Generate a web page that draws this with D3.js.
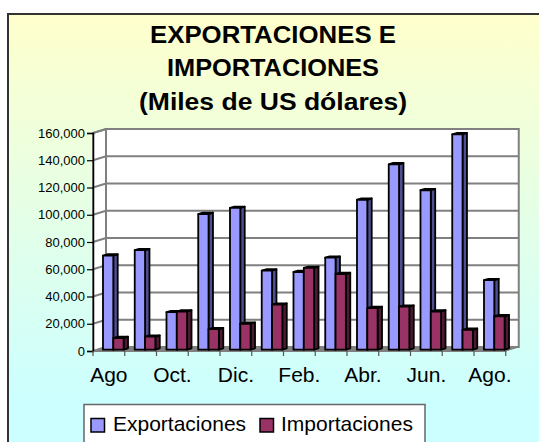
<!DOCTYPE html>
<html>
<head>
<meta charset="utf-8">
<script src="https://cdn.jsdelivr.net/npm/d3@7"></script>
<style>
  body { margin: 0; background: #fff; }
  svg { display: block; font-family: "Liberation Sans", Arial, sans-serif; }
</style>
</head>
<body>
<div class="chart-container"></div>
<script>
var w = 539;
var h = 442;

// data (miles de US dolares)
var months = ["Ago", "Sep.", "Oct.", "Nov.", "Dic.", "Ene.", "Feb.", "Mar.", "Abr.", "May.", "Jun.", "Jul.", "Ago."];
var exportaciones = [69000, 73000, 27500, 99500, 104000, 58000, 57000, 67500, 110000, 136000, 117000, 158000, 51000];
var importaciones = [8500, 9500, 28000, 15000, 19000, 33000, 60000, 55500, 30500, 31500, 28000, 14500, 24500];
var seriesNames = ["Exportaciones", "Importaciones"];
var yTicks = [0, 20000, 40000, 60000, 80000, 100000, 120000, 140000, 160000];
var titleLines = ["EXPORTACIONES E", "IMPORTACIONES", "(Miles de US dólares)"];

// 3d look
var DX = 13, DY = -4;      // depth offset of the back wall
var z0 = 0.34, z1 = 0.68;  // depth slice taken by the bars
var faces = {
    Exportaciones: { front: "#9999ff", top: "#7c7cd6", side: "#4f4f8f" },
    Importaciones: { front: "#993366", top: "#7a2952", side: "#4d1a33" }
};

var svg = d3.select(".chart-container")
    .append("svg")
    .attr("width", w)
    .attr("height", h);

var defs = svg.append("defs");
var grad = defs.append("linearGradient")
    .attr("id", "bg")
    .attr("gradientUnits", "userSpaceOnUse")
    .attr("x1", 0).attr("y1", 14).attr("x2", 0).attr("y2", 400);
grad.append("stop").attr("offset", "0").attr("stop-color", "#ffffcc");
grad.append("stop").attr("offset", "1").attr("stop-color", "#ccffff");

// frame
svg.append("rect")
    .attr("x", 8).attr("y", 14)
    .attr("width", 600).attr("height", 500)
    .attr("fill", "url(#bg)")
    .attr("stroke", "#333")
    .attr("stroke-width", 2);

// title
svg.append("g").selectAll("text")
    .data(titleLines)
    .enter()
    .append("text")
    .attr("x", 273)
    .attr("y", function(d, i) { return 42.5 + i * 33.5; })
    .attr("text-anchor", "middle")
    .attr("font-size", 24)
    .attr("font-weight", "bold")
    .attr("textLength", function(d, i) { return [246, 212, 268][i]; })
    .attr("lengthAdjust", "spacingAndGlyphs")
    .attr("fill", "#000")
    .text(function(d) { return d; });

var xScale = d3.scaleBand()
    .domain(d3.range(months.length))
    .range([93, 93 + 13 * 31.75])
    .padding(0);

var xSub = d3.scaleBand()
    .domain(seriesNames)
    .range([0, xScale.bandwidth()])
    .paddingInner(0)
    .paddingOuter(0.54);

var yScale = d3.scaleLinear()
    .domain([0, 160000])
    .range([351, 133]);

function pt(x, v, z) {
    return [x + z * DX, yScale(v) + z * DY];
}
function poly(pts) {
    return "M" + pts.map(function(p) { return p[0] + "," + p[1]; }).join("L") + "Z";
}

var x0 = xScale.range()[0], x1 = xScale.range()[1];
var vMax = 160000;

// walls
svg.append("path")
    .attr("d", poly([pt(x0, 0, 1), pt(x0, vMax, 1), pt(x1, vMax, 1), pt(x1, 0, 1)]))
    .attr("fill", "#fff")
    .attr("stroke", "#808080")
    .attr("stroke-width", 2);
svg.append("path")
    .attr("d", poly([pt(x0, 0, 0), pt(x0, vMax, 0), pt(x0, vMax, 1), pt(x0, 0, 1)]))
    .attr("fill", "#fff")
    .attr("stroke", "#808080")
    .attr("stroke-width", 2);

// gridlines
var grid = svg.append("g").attr("fill", "none").attr("stroke", "#808080").attr("stroke-width", 2);
yTicks.slice(1).forEach(function(t) {
    grid.append("path")
        .attr("d", "M" + pt(x0, t, 0) + "L" + pt(x0, t, 1) + "L" + pt(x1, t, 1));
});

// floor
svg.append("path")
    .attr("d", poly([pt(x0, 0, 0), pt(x0, 0, 1), pt(x1, 0, 1), pt(x1, 0, 0)]))
    .attr("fill", "#808080")
    .attr("stroke", "#808080")
    .attr("stroke-width", 1);

// bars
var bars = [];
months.forEach(function(m, i) {
    bars.push({ i: i, s: "Exportaciones", v: exportaciones[i] });
    bars.push({ i: i, s: "Importaciones", v: importaciones[i] });
});

var barG = svg.append("g")
    .attr("stroke", "#000")
    .attr("stroke-width", 1.8)
    .attr("stroke-linejoin", "round");

bars.forEach(function(d) {
    var xl = xScale(d.i) + xSub(d.s);
    var xr = xl + xSub.bandwidth();
    var g = barG.append("g");
    g.append("path")
        .attr("d", poly([pt(xr, 0, z0), pt(xr, d.v, z0), pt(xr, d.v, z1), pt(xr, 0, z1)]))
        .attr("fill", faces[d.s].side);
    g.append("path")
        .attr("d", poly([pt(xl, d.v, z0), pt(xl, d.v, z1), pt(xr, d.v, z1), pt(xr, d.v, z0)]))
        .attr("fill", faces[d.s].top);
    g.append("path")
        .attr("d", poly([pt(xl, 0, z0), pt(xl, d.v, z0), pt(xr, d.v, z0), pt(xr, 0, z0)]))
        .attr("fill", faces[d.s].front);
});

// y axis
var yAxis = d3.axisLeft()
    .scale(yScale)
    .tickValues(yTicks)
    .tickFormat(d3.format(","))
    .tickSize(6)
    .tickPadding(2);

var yg = svg.append("g")
    .attr("class", "axis")
    .attr("transform", "translate(" + x0 + ",0)")
    .call(yAxis);
yg.select(".domain").attr("stroke", "#000").attr("stroke-width", 1.5);
yg.selectAll(".tick line").attr("stroke", "#000").attr("stroke-width", 1.2);
yg.selectAll(".tick text")
    .attr("font-size", 13)
    .attr("font-family", "Liberation Sans, Arial, sans-serif")
    .attr("fill", "#000");

// x axis: labels every other month, ticks on category edges
var xAxis = d3.axisBottom()
    .scale(xScale)
    .tickSize(0)
    .tickPadding(16)
    .tickFormat(function(d) { return d % 2 === 0 ? months[d] : ""; });

var xg = svg.append("g")
    .attr("class", "axis")
    .attr("transform", "translate(0," + yScale(0) + ")")
    .call(xAxis);
xg.select(".domain").attr("stroke", "#808080").attr("stroke-width", 1);
xg.selectAll(".tick text")
    .attr("font-size", 21)
    .attr("font-family", "Liberation Sans, Arial, sans-serif")
    .attr("fill", "#000");

svg.append("g").selectAll("line")
    .data(d3.range(months.length + 1))
    .enter()
    .append("line")
    .attr("x1", function(d) { return x0 + d * xScale.step(); })
    .attr("x2", function(d) { return x0 + d * xScale.step(); })
    .attr("y1", yScale(0))
    .attr("y2", yScale(0) + 5)
    .attr("stroke", "#555")
    .attr("stroke-width", 1.2);

// legend
var lg = svg.append("g");
lg.append("rect")
    .attr("x", 84).attr("y", 404.5)
    .attr("width", 341).attr("height", 60)
    .attr("fill", "#fff")
    .attr("stroke", "#666")
    .attr("stroke-width", 1.5);

var legendX = [91, 260];
var textX = [113, 281];
seriesNames.forEach(function(s, i) {
    lg.append("rect")
        .attr("x", legendX[i]).attr("y", 418.5)
        .attr("width", 13.5).attr("height", 13.5)
        .attr("fill", faces[s].front)
        .attr("stroke", "#000")
        .attr("stroke-width", 1.5);
    lg.append("text")
        .attr("x", textX[i])
        .attr("y", 431)
        .attr("font-size", 21)
        .attr("fill", "#000")
        .text(s);
});
</script>
</body>
</html>
